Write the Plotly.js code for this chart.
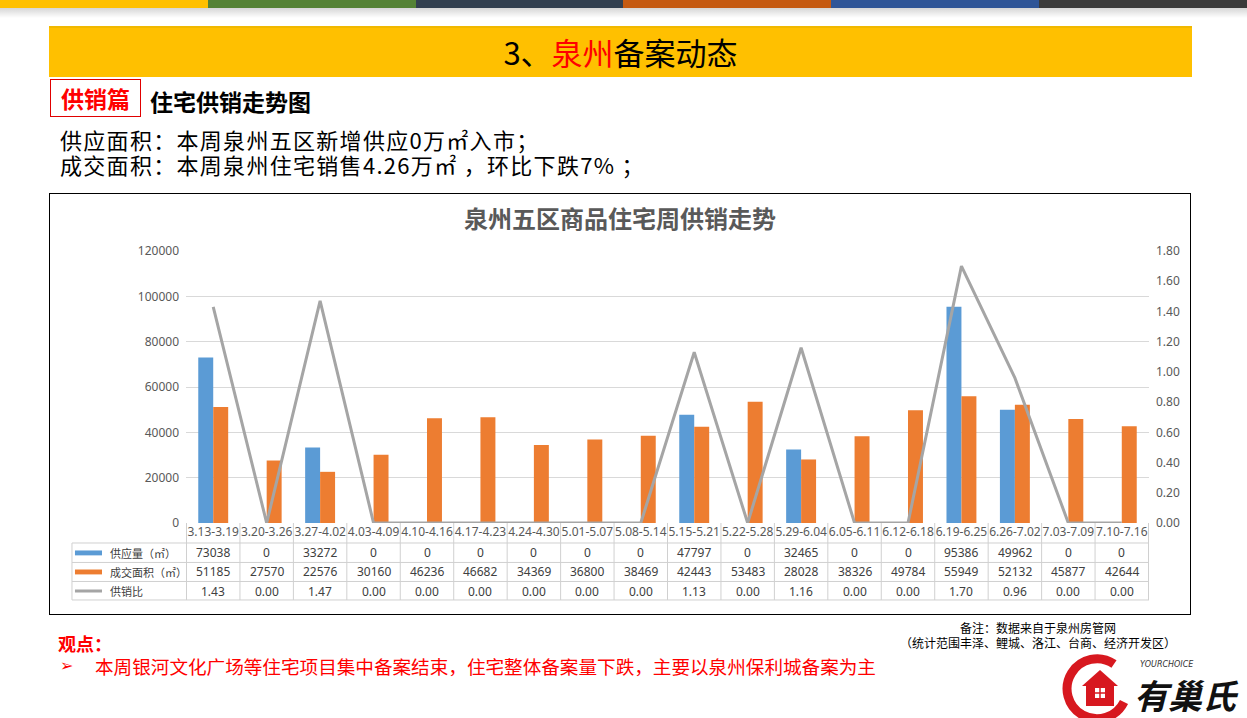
<!DOCTYPE html>
<html>
<head>
<meta charset="utf-8">
<script src="https://cdn.plot.ly/plotly-3.0.1.min.js"></script>
<style>
body{margin:0;width:1247px;height:718px;position:relative;background:#fff;overflow:hidden;
 font-family:"Noto Sans CJK SC","Noto Sans",sans-serif}
.abs{position:absolute;white-space:nowrap}
#stripe{left:0;top:0;width:1247px;height:8px;display:flex}
#stripe div{flex:1}
#chart{left:49px;top:193px;width:1140px;height:420px;border:1px solid #000}
</style>
</head>
<body>
<div id="stripe" class="abs">
  <div style="background:#FFC000"></div><div style="background:#548235"></div>
  <div style="background:#323F4F"></div><div style="background:#C55A11"></div>
  <div style="background:#2F5597"></div><div style="background:#3A3A3A"></div>
</div>
<div class="abs" style="left:0;top:8px;width:1247px;height:10px;background:linear-gradient(rgba(0,0,0,0.16),rgba(0,0,0,0))"></div>

<div class="abs" style="left:49px;top:26px;width:1143px;height:51px;background:#FFC000;border-top:2px solid #F0B800;box-sizing:border-box;text-align:center;font-size:31px;line-height:47px;color:#000">3、<span style="color:#FF0000">泉州</span>备案动态</div>

<div class="abs" style="left:50px;top:79px;width:91px;height:38px;border:1px solid #E00000;box-sizing:border-box;text-align:center;font-size:23px;font-weight:bold;line-height:36px;color:#FF0000">供销篇</div>
<div class="abs" style="left:150px;top:86px;font-size:23px;font-weight:bold;line-height:30px;color:#000">住宅供销走势图</div>

<div class="abs" style="left:60px;top:128px;font-size:22px;letter-spacing:1.3px;line-height:23px;color:#000">供应面积：本周泉州五区新增供应0万㎡入市；</div>
<div class="abs" style="left:60px;top:153px;font-size:22px;letter-spacing:1.3px;line-height:23px;color:#000">成交面积：本周泉州住宅销售4.26万㎡ ，环比下跌7% ；</div>

<div id="chart" class="abs"></div>

<div class="abs" style="left:58px;top:631px;font-size:18px;font-weight:bold;line-height:24px;color:#FF0000">观点：</div>
<div class="abs" style="left:60px;top:654px;font-size:16px;line-height:24px;color:#FF0000;font-family:'DejaVu Sans'">➢</div>
<div class="abs" style="left:95px;top:654px;font-size:18.6px;line-height:24px;color:#FF0000">本周银河文化广场等住宅项目集中备案结束，住宅整体备案量下跌，主要以泉州保利城备案为主</div>

<div class="abs" style="left:900px;top:620px;width:276px;text-align:center;font-size:12px;line-height:15px;color:#000">备注：数据来自于泉州房管网<br>（统计范围丰泽、鲤城、洛江、台商、经济开发区）</div>

<svg class="abs" style="left:1062px;top:652px" width="185" height="66">
  <path d="M52 12 A30 30 0 1 0 62 50" fill="none" stroke="#D7181F" stroke-width="9"/>
  <path d="M20 34 L38 18 L56 34 L52 34 L52 54 L24 54 L24 34 Z" fill="#D7181F"/>
  <rect x="33" y="36" width="10" height="10" fill="#fff"/>
  <line x1="38" y1="36" x2="38" y2="46" stroke="#D7181F" stroke-width="1.5"/>
  <line x1="33" y1="41" x2="43" y2="41" stroke="#D7181F" stroke-width="1.5"/>
  <text x="78" y="15" font-size="8" font-style="italic" fill="#333" font-family="DejaVu Sans">YOURCHOICE</text>
  <text x="72" y="57" font-size="34" font-weight="bold" font-style="italic" fill="#111" font-family="Noto Sans CJK SC">有巢氏</text>
</svg>

<script>
const weeks = ["3.13-3.19","3.20-3.26","3.27-4.02","4.03-4.09","4.10-4.16","4.17-4.23",
  "4.24-4.30","5.01-5.07","5.08-5.14","5.15-5.21","5.22-5.28","5.29-6.04",
  "6.05-6.11","6.12-6.18","6.19-6.25","6.26-7.02","7.03-7.09","7.10-7.16"];
const supply = [73038,0,33272,0,0,0,0,0,0,47797,0,32465,0,0,95386,49962,0,0];
const deals = [51185,27570,22576,30160,46236,46682,34369,36800,38469,42443,53483,28028,38326,49784,55949,52132,45877,42644];
const ratio = [1.43,0,1.47,0,0,0,0,0,0,1.13,0,1.16,0,0,1.70,0.96,0,0];
const rowNames = ["供应量（㎡）","成交面积（㎡）","供销比"];

const blue = "#5B9BD5", orange = "#ED7D31", grey = "#A5A5A5";
const font = "Noto Sans, Noto Sans CJK SC, sans-serif";

const data = [
  {x: weeks, y: supply, type: "bar", name: rowNames[0], marker: {color: blue}, hoverinfo: "none"},
  {x: weeks, y: deals, type: "bar", name: rowNames[1], marker: {color: orange}, hoverinfo: "none"},
  {x: weeks, y: ratio, type: "scatter", mode: "lines", name: rowNames[2], yaxis: "y2",
   line: {color: grey, width: 3}, hoverinfo: "none"}
];

// data table under the plot
const rowY = [-0.110, -0.180, -0.250];
const lineY = [-0.0735, -0.145, -0.215, -0.283];
const annotations = [];
const shapes = [];
const rows = [supply, deals, ratio.map(v => v.toFixed(2))];
rows.forEach((vals, r) => {
  vals.forEach((v, i) => annotations.push({
    x: weeks[i], y: rowY[r], xref: "x", yref: "paper", xanchor: "center", yanchor: "middle",
    text: String(v), showarrow: false,
    font: {size: 12, color: "#404040", family: font}
  }));
  annotations.push({
    x: -0.081, y: rowY[r], xref: "paper", yref: "paper", xanchor: "left", yanchor: "middle",
    text: rowNames[r], showarrow: false,
    font: {size: 11, color: "#404040", family: "Noto Sans CJK SC"}
  });
});
const cellLine = {color: "#D0D0D0", width: 1};
lineY.forEach(y => shapes.push({type: "line", xref: "paper", yref: "paper",
  x0: -0.1184, x1: 1, y0: y, y1: y, line: cellLine}));
shapes.push({type: "line", xref: "paper", yref: "paper", x0: -0.1184, x1: -0.1184,
  y0: lineY[0], y1: lineY[3], line: cellLine});
for (let i = 0; i <= weeks.length; i++) {
  shapes.push({type: "line", xref: "x", yref: "paper", x0: i - 0.5, x1: i - 0.5,
    y0: 0, y1: lineY[3], line: cellLine});
}
// legend keys in the table
[blue, orange].forEach((c, r) => shapes.push({type: "rect", xref: "paper", yref: "paper",
  x0: -0.1153, x1: -0.0872, y0: rowY[r] - 0.009, y1: rowY[r] + 0.009,
  fillcolor: c, line: {width: 0}}));
shapes.push({type: "line", xref: "paper", yref: "paper", x0: -0.1153, x1: -0.0872,
  y0: rowY[2], y1: rowY[2], line: {color: grey, width: 3}});

const layout = {
  width: 1140, height: 420,
  margin: {l: 136, r: 41, t: 57, b: 91},
  paper_bgcolor: "#fff", plot_bgcolor: "#fff",
  font: {family: font, size: 12, color: "#595959"},
  title: {text: "泉州五区商品住宅周供销走势", x: 0.5, xref: "container", y: 0.938,
    yref: "container", yanchor: "middle",
    font: {family: "Noto Sans CJK SC", size: 24, color: "#595959", weight: "bold"}},
  showlegend: false,
  barmode: "group", bargap: 0.44, bargroupgap: 0,
  xaxis: {type: "category", tickangle: 0, showgrid: false, zeroline: false,
    showline: false, ticks: "", tickfont: {size: 12, color: "#595959"}},
  yaxis: {range: [0, 120000], dtick: 20000, gridcolor: "#D9D9D9", zeroline: false,
    showline: false, ticks: "", tickformat: "d", ticklabelstandoff: 6},
  yaxis2: {range: [0, 1.8], dtick: 0.2, overlaying: "y", side: "right", showgrid: false,
    zeroline: false, showline: false, ticks: "", tickformat: ".2f", ticklabelstandoff: 6},
  annotations: annotations,
  shapes: shapes
};

Plotly.newPlot("chart", data, layout, {displayModeBar: false, staticPlot: true});
</script>
</body>
</html>
